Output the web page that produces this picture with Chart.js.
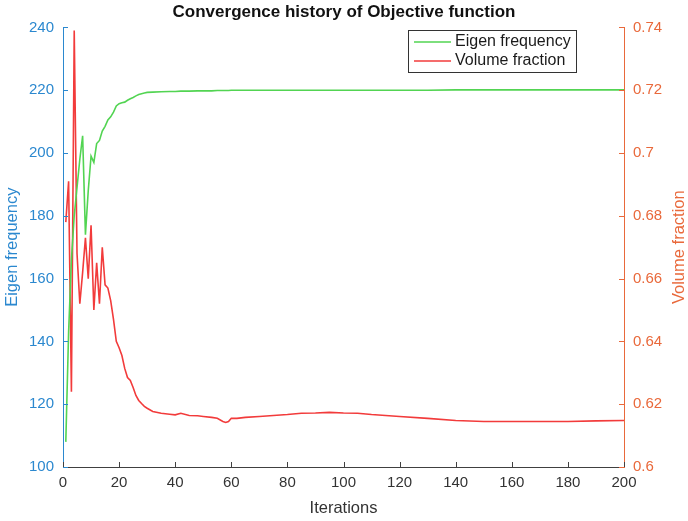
<!DOCTYPE html>
<html>
<head>
<meta charset="utf-8">
<script src="https://cdn.jsdelivr.net/npm/chart.js@4.4.1/dist/chart.umd.min.js"></script>
<style>
  html, body { margin: 0; padding: 0; background: #fff; }
  #wrap { width: 688px; height: 521px; }
</style>
</head>
<body>
<div id="wrap"><canvas id="convChart" width="688" height="521"></canvas></div>
<script>
// values (sparse after iteration 30, where both curves are flat)
const iterations = [1, 2, 3, 4, 5, 6, 7, 8, 9, 10, 11, 12, 13, 14, 15, 16, 17, 18, 19, 20,
  21, 22, 23, 24, 25, 26, 27, 28, 29, 30, 32, 35, 38, 40, 42, 45, 48, 50, 53, 55,
  57, 58, 59, 60, 62, 65, 70, 75, 80, 85, 90, 95, 100, 105, 110, 120, 130, 140, 150, 160,
  170, 180, 190, 200];

const eigenFreq = [108, 143, 166, 180, 189, 198, 205.5, 174, 188, 199, 197, 203, 204, 207, 208.5, 210.5, 211.5, 213, 215, 215.7,
  216, 216.2, 216.8, 217.3, 217.7, 218.2, 218.6, 218.9, 219.1, 219.3, 219.4, 219.5, 219.6, 219.6, 219.7, 219.7, 219.8, 219.8, 219.8, 219.9,
  219.9, 219.9, 219.9, 220, 220, 220, 220, 220, 220, 220, 220, 220, 220, 220, 220, 220, 220, 220.1, 220.1, 220.1,
  220.1, 220.1, 220.1, 220.1];

const volumeFrac = [0.678, 0.691, 0.624, 0.739, 0.668, 0.652, 0.662, 0.673, 0.660, 0.677, 0.650, 0.665, 0.652, 0.670, 0.658, 0.657, 0.653, 0.647, 0.640, 0.638,
  0.6355, 0.6314, 0.6285, 0.6276, 0.6253, 0.6228, 0.6212, 0.6202, 0.6193, 0.6187, 0.6177, 0.6171, 0.6168, 0.6166, 0.6171, 0.6164, 0.6163, 0.6161, 0.6158, 0.6155,
  0.6145, 0.6142, 0.6145, 0.6155, 0.6155, 0.6158, 0.6161, 0.6164, 0.6167, 0.6171, 0.6172, 0.6174, 0.6172, 0.6171, 0.6167, 0.6161, 0.6155, 0.6148, 0.6145, 0.6145,
  0.6145, 0.6145, 0.6147, 0.6148];

const iterTicks = [0, 20, 40, 60, 80, 100, 120, 140, 160, 180, 200];
const eigenTicks = [100, 120, 140, 160, 180, 200, 220, 240];
const volumeTicks = [0.6, 0.62, 0.64, 0.66, 0.68, 0.7, 0.72, 0.74];

const fontFamily = "'Liberation Sans', Arial, Helvetica, sans-serif";
const leftBlue = '#2b88cf';
const rightOrange = '#e9693b';
const axisGray = '#404040';
const green = '#52d452';
const red = '#f23b3b';

function setTicks(list) {
    return function (scale) {
        scale.ticks = list.map(function (v) { return { value: v }; });
    };
}

// MATLAB style ticks pointing into the plot
const innerTicks = {
    id: 'innerTicks',
    afterDraw(chart) {
        const ctx = chart.ctx;
        const a = chart.chartArea;
        const s = chart.scales;
        ctx.save();
        ctx.lineWidth = 1;
        ctx.strokeStyle = axisGray;
        s.x.ticks.forEach(function (t) {
            const px = Math.round(s.x.getPixelForValue(t.value)) + 0.5;
            ctx.beginPath(); ctx.moveTo(px, a.bottom); ctx.lineTo(px, a.bottom - 5); ctx.stroke();
        });
        ctx.strokeStyle = leftBlue;
        s.yEig.ticks.forEach(function (t) {
            const py = Math.round(s.yEig.getPixelForValue(t.value)) + 0.5;
            ctx.beginPath(); ctx.moveTo(a.left, py); ctx.lineTo(a.left + 5, py); ctx.stroke();
        });
        ctx.strokeStyle = rightOrange;
        s.yVol.ticks.forEach(function (t) {
            const py = Math.round(s.yVol.getPixelForValue(t.value)) + 0.5;
            ctx.beginPath(); ctx.moveTo(a.right, py); ctx.lineTo(a.right - 5, py); ctx.stroke();
        });
        ctx.restore();
    }
};

// right axis title reads bottom to top like the left one
const rightTitle = {
    id: 'rightTitle',
    afterDraw(chart) {
        const ctx = chart.ctx;
        const a = chart.chartArea;
        ctx.save();
        ctx.translate(chart.width - 9, (a.top + a.bottom) / 2);
        ctx.rotate(-Math.PI / 2);
        ctx.font = '16.5px ' + fontFamily;
        ctx.fillStyle = rightOrange;
        ctx.textAlign = 'center';
        ctx.textBaseline = 'middle';
        ctx.fillText('Volume fraction', 0, 0);
        ctx.restore();
    }
};

// boxed legend inside the plot, top right
const boxedLegend = {
    id: 'boxedLegend',
    afterDraw(chart) {
        const ctx = chart.ctx;
        const a = chart.chartArea;
        const sets = chart.data.datasets;
        ctx.save();
        ctx.font = '16px ' + fontFamily;
        const textW = Math.max.apply(null, sets.map(function (d) { return ctx.measureText(d.label).width; }));
        const w = Math.round(47 + textW + 5);
        const h = 42;
        const x0 = Math.round(a.right - 48 - w);
        const y0 = Math.round(a.top + 3);
        ctx.fillStyle = '#fff';
        ctx.fillRect(x0, y0, w, h);
        ctx.strokeStyle = '#333';
        ctx.lineWidth = 1;
        ctx.strokeRect(x0 + 0.5, y0 + 0.5, w, h);
        sets.forEach(function (d, i) {
            const y = y0 + 12 + i * 19;
            ctx.strokeStyle = d.borderColor;
            ctx.lineWidth = d.borderWidth;
            ctx.beginPath(); ctx.moveTo(x0 + 6, y); ctx.lineTo(x0 + 43, y); ctx.stroke();
            ctx.fillStyle = '#1a1a1a';
            ctx.textAlign = 'left';
            ctx.textBaseline = 'middle';
            ctx.fillText(d.label, x0 + 47, y);
        });
        ctx.restore();
    }
};

const ctx = document.getElementById('convChart').getContext('2d');
const convChart = new Chart(ctx, {
    type: 'line',
    data: {
        datasets: [{
            label: 'Eigen frequency',
            data: iterations.map(function (it, i) { return { x: it, y: eigenFreq[i] }; }),
            borderColor: green,
            backgroundColor: green,
            borderWidth: 1.6,
            pointRadius: 0,
            tension: 0,
            yAxisID: 'yEig'
        }, {
            label: 'Volume fraction',
            data: iterations.map(function (it, i) { return { x: it, y: volumeFrac[i] }; }),
            borderColor: red,
            backgroundColor: red,
            borderWidth: 1.6,
            pointRadius: 0,
            tension: 0,
            yAxisID: 'yVol'
        }]
    },
    options: {
        responsive: false,
        animation: false,
        devicePixelRatio: 1,
        layout: { padding: 0 },
        plugins: {
            legend: { display: false },
            tooltip: { enabled: false },
            title: {
                display: true,
                text: 'Convergence history of Objective function',
                color: '#111',
                font: { family: fontFamily, size: 17, weight: 'bold' },
                padding: { top: 2, bottom: 5 }
            }
        },
        scales: {
            x: {
                type: 'linear',
                min: 0,
                max: 200,
                afterBuildTicks: setTicks(iterTicks),
                afterFit: function (scale) { scale.height = 54; },
                grid: { display: false, drawTicks: false },
                border: { display: true, color: axisGray, width: 1 },
                ticks: { color: '#333', padding: 7, font: { family: fontFamily, size: 15 }, maxRotation: 0 },
                title: { display: true, text: 'Iterations', color: '#333', font: { family: fontFamily, size: 16.5 }, padding: { top: 0, bottom: 3 } }
            },
            yEig: {
                type: 'linear',
                position: 'left',
                min: 100,
                max: 240,
                afterBuildTicks: setTicks(eigenTicks),
                afterFit: function (scale) { scale.width = 63; },
                grid: { display: false, drawTicks: false },
                border: { display: true, color: leftBlue, width: 1 },
                ticks: { color: leftBlue, padding: 9, font: { family: fontFamily, size: 15 } },
                title: { display: true, text: 'Eigen frequency', color: leftBlue, font: { family: fontFamily, size: 16.5 }, padding: { top: 3, bottom: 0 } }
            },
            yVol: {
                type: 'linear',
                position: 'right',
                min: 0.6,
                max: 0.74,
                afterBuildTicks: setTicks(volumeTicks),
                afterFit: function (scale) { scale.width = 64; },
                grid: { display: false, drawTicks: false },
                border: { display: true, color: rightOrange, width: 1 },
                ticks: {
                    color: rightOrange,
                    padding: 9,
                    font: { family: fontFamily, size: 15 },
                    callback: function (v) { return String(+v.toFixed(2)); }
                },
                title: { display: false }
            }
        }
    },
    plugins: [innerTicks, rightTitle, boxedLegend]
});
</script>
</body>
</html>
